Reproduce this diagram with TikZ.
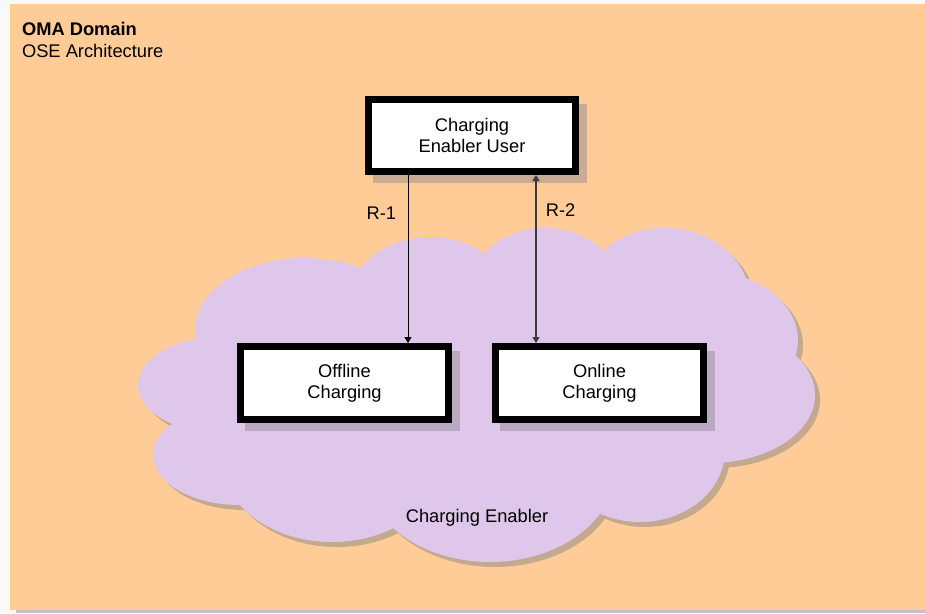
\documentclass[tikz,border=0pt]{standalone}
\usepackage{fontspec}
\setmainfont{Liberation Sans}
\usetikzlibrary{arrows.meta}
\definecolor{bgorange}{HTML}{FFCB97}
\definecolor{cloudfill}{HTML}{DEC7EB}
\definecolor{cloudshadow}{HTML}{C5A98F}
\definecolor{shadoworange}{HTML}{C8AC94}
\definecolor{shadowpurple}{HTML}{B8A9C0}
\definecolor{pageback}{HTML}{F9F9F9}
\definecolor{bottomshade}{HTML}{C4C4C4}
\definecolor{arrowgrey}{HTML}{3C3C3C}
\pgfdeclarelayer{back}
\pgfdeclarelayer{shade}
\pgfsetlayers{back,shade,main}
\tikzset{
  txt/.style={font=\fontsize{18.3}{21}\selectfont},
  boxnode/.style={txt, draw=black, line width=7pt, fill=white, align=center,
    minimum width=207pt, minimum height=72pt, inner sep=0pt},
  conn/.style={line width=1pt, -{Triangle[length=6pt,width=7pt]}},
  connboth/.style={line width=1.2pt, draw=arrowgrey,
    {Triangle[length=6pt,width=7pt]}-{Triangle[length=6pt,width=7pt]}},
}
\begin{document}
\begin{tikzpicture}[x=1pt,y=-1pt]
\useasboundingbox (0,0) rectangle (925,613);

% boxes
\node[boxnode] (top) at (472,135.5) {Charging\\Enabler User};
\node[boxnode, minimum width=208pt, minimum height=73pt] (offline) at (344.5,383) {Offline\\Charging};
\node[boxnode, minimum width=208pt, minimum height=73pt] (online) at (599.5,383) {Online\\Charging};

\begin{pgfonlayer}{back}
  \fill[pageback] (0,0) rectangle (925,613);
  \fill[bottomshade] (16,609) rectangle (925,613);
  \fill[bgorange] (10,4) rectangle (925,610);
  % cloud shadow
  \foreach \cx/\cy/\rx/\ry in {305/330/110/72, 430/300/80/63, 545/290/75/62,
      665/300/85/72, 700/340/98/70, 710/395/105/68, 640/450/85/72,
      490/470/125/92, 332/460/110/82, 240/455/87/50, 220/385/82/48,
      480/380/250/120}
    \fill[cloudshadow] (\cx+5,\cy+5) ellipse [x radius=\rx, y radius=\ry];
  % cloud
  \foreach \cx/\cy/\rx/\ry in {305/330/110/72, 430/300/80/63, 545/290/75/62,
      665/300/85/72, 700/340/98/70, 710/395/105/68, 640/450/85/72,
      490/470/125/92, 332/460/110/82, 240/455/87/50, 220/385/82/48,
      480/380/250/120}
    \fill[cloudfill] (\cx,\cy) ellipse [x radius=\rx, y radius=\ry];
\end{pgfonlayer}

\begin{pgfonlayer}{shade}
  \fill[shadoworange] ([shift={(8,8)}]top.north west) rectangle ([shift={(8,8)}]top.south east);
  \fill[shadowpurple] ([shift={(8,8)}]offline.north west) rectangle ([shift={(8,8)}]offline.south east);
  \fill[shadowpurple] ([shift={(8,8)}]online.north west) rectangle ([shift={(8,8)}]online.south east);
\end{pgfonlayer}

% titles and labels
\node[txt, anchor=base west, font=\fontsize{18.3}{21}\selectfont\bfseries] (title) at (18.5,35) {OMA Domain};
\node[txt, anchor=base west] (subtitle) at (18.5,57) {OSE Architecture};
\node[txt, anchor=base] (cloudlabel) at (477,522) {Charging Enabler};

% connectors
\coordinate (r1) at (408,0);
\coordinate (r2) at (536,0);
\draw[conn] (top.south -| r1) -- node[txt, pos=0.23, left=8pt] (lab1) {R-1} (offline.north -| r1);
\draw[connboth] (online.north -| r2) -- node[txt, pos=0.79, right=6pt] (lab2) {R-2} (top.south -| r2);
\end{tikzpicture}
\end{document}
